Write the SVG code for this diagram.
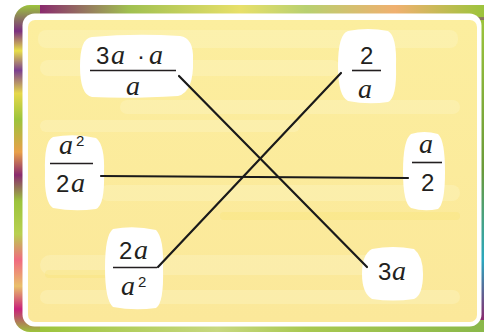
<svg xmlns="http://www.w3.org/2000/svg" width="484" height="333" viewBox="0 0 484 333">
<defs>
<linearGradient id="frameL" x1="0" y1="0" x2="0" y2="1">
<stop offset="0" stop-color="#9cc43c"/>
<stop offset="0.08" stop-color="#7b2f7f"/>
<stop offset="0.14" stop-color="#e8e04a"/>
<stop offset="0.2" stop-color="#7b3f8f"/>
<stop offset="0.27" stop-color="#e6d84a"/>
<stop offset="0.35" stop-color="#9cc43c"/>
<stop offset="0.45" stop-color="#e9a04a"/>
<stop offset="0.52" stop-color="#8a2a6e"/>
<stop offset="0.6" stop-color="#9cc43c"/>
<stop offset="0.7" stop-color="#b8d050"/>
<stop offset="0.78" stop-color="#f06a80"/>
<stop offset="0.86" stop-color="#e9c06a"/>
<stop offset="0.93" stop-color="#c8227a"/>
<stop offset="1" stop-color="#9cc43c"/>
</linearGradient>
<linearGradient id="frameT" x1="0" y1="0" x2="1" y2="0">
<stop offset="0" stop-color="#8a2a6e"/>
<stop offset="0.2" stop-color="#a0c050"/>
<stop offset="0.45" stop-color="#e8e06a"/>
<stop offset="0.6" stop-color="#b8d070"/>
<stop offset="0.8" stop-color="#f0b070"/>
<stop offset="1" stop-color="#9cc43c"/>
</linearGradient>
<linearGradient id="frameB" x1="0" y1="0" x2="1" y2="0">
<stop offset="0" stop-color="#9cc43c"/>
<stop offset="0.4" stop-color="#c8d880"/>
<stop offset="0.6" stop-color="#a8c850"/>
<stop offset="1" stop-color="#8ab84a"/>
</linearGradient>
<linearGradient id="frameR" x1="0" y1="0" x2="0" y2="1">
<stop offset="0" stop-color="#9cc43c"/>
<stop offset="0.5" stop-color="#6a9a3a"/>
<stop offset="0.8" stop-color="#2aa8c0"/>
<stop offset="1" stop-color="#8a2a6e"/>
</linearGradient>
<linearGradient id="paper" x1="0" y1="0" x2="0" y2="1">
<stop offset="0" stop-color="#fcee9e"/>
<stop offset="1" stop-color="#fbe89a"/>
</linearGradient>
</defs>
<style>
.num{font-family:"Liberation Sans",Arial,sans-serif;font-size:24px;fill:#231f20}
.var{font-family:"Liberation Serif","Times New Roman",serif;font-style:italic;font-size:28px;fill:#231f20}
.sup{font-family:"Liberation Sans",Arial,sans-serif;font-size:15px;fill:#231f20}
.bar{stroke:#231f20;stroke-width:1.6}
.blob{fill:#ffffff}
.link{stroke:#1a1a1a;stroke-width:2.2;fill:none;stroke-linecap:round}
.streak{fill:#fdf6c8;opacity:0.35}
.streak2{fill:#f8e268;opacity:0.25}
</style>
<!-- frame -->
<rect x="14" y="5" width="480" height="327" rx="16" fill="url(#frameL)"/>
<rect x="40" y="5" width="444" height="12" fill="url(#frameT)"/>
<rect x="40" y="320" width="444" height="12" fill="url(#frameB)"/>
<rect x="476" y="20" width="10" height="300" fill="url(#frameR)"/>
<rect x="22.5" y="13.5" width="459" height="313" rx="12" fill="#ffffff"/>
<rect x="28" y="20" width="449" height="302" rx="7" fill="url(#paper)"/>
<!-- paper streaks -->
<rect x="38" y="30" width="420" height="18" rx="8" class="streak"/>
<rect x="40" y="60" width="300" height="16" rx="8" class="streak"/>
<rect x="120" y="100" width="340" height="14" rx="7" class="streak"/>
<rect x="40" y="120" width="260" height="12" rx="6" class="streak"/>
<rect x="100" y="185" width="360" height="16" rx="8" class="streak"/>
<rect x="40" y="255" width="380" height="20" rx="10" class="streak"/>
<rect x="40" y="290" width="420" height="14" rx="7" class="streak"/>
<rect x="45" y="270" width="110" height="8" rx="4" class="streak2"/>
<rect x="220" y="212" width="240" height="8" rx="4" class="streak2"/>
<!-- nodes -->
<g id="n-3a-a-over-a">
<path class="blob" d="M92,37 Q135,33 180,36 Q194,38 193,60 Q194,92 178,96 Q130,99 92,97 Q80,95 80,66 Q80,38 92,37 Z"/>
<text class="num" x="96" y="64">3</text>
<text class="var" x="111" y="64">a</text>
<text class="num" x="137" y="64">·</text>
<text class="var" x="149" y="64">a</text>
<line class="bar" x1="90" y1="70.5" x2="176" y2="70.5"/>
<text class="var" x="126" y="95">a</text>
</g>
<g id="n-2-over-a">
<path class="blob" d="M348,31 Q368,27 388,31 Q397,36 396,66 Q397,98 388,102 Q368,105 348,101 Q338,96 338,66 Q338,34 348,31 Z"/>
<text class="num" x="360" y="64">2</text>
<line class="bar" x1="352" y1="70.5" x2="381" y2="70.5"/>
<text class="var" x="358" y="98">a</text>
</g>
<g id="n-a2-over-2a">
<path class="blob" d="M53,137 Q75,133 96,138 Q105,145 104,172 Q105,205 96,209 Q74,212 53,208 Q44,202 45,172 Q44,141 53,137 Z"/>
<text class="var" x="59" y="154">a</text>
<text class="sup" x="76" y="146">2</text>
<line class="bar" x1="50" y1="163.5" x2="93" y2="163.5"/>
<text class="num" x="56" y="192">2</text>
<text class="var" x="71" y="192">a</text>
</g>
<g id="n-a-over-2">
<path class="blob" d="M411,134 Q424,130 438,134 Q445,140 445,172 Q445,204 438,209 Q424,212 411,208 Q403,203 403,172 Q403,140 411,134 Z"/>
<text class="var" x="419" y="153">a</text>
<line class="bar" x1="412" y1="162.5" x2="442" y2="162.5"/>
<text class="num" x="421" y="191">2</text>
</g>
<g id="n-2a-over-a2">
<path class="blob" d="M113,229 Q134,225 156,230 Q164,238 163,268 Q164,303 156,308 Q134,311 113,307 Q105,300 105,268 Q105,235 113,229 Z"/>
<text class="num" x="119" y="259">2</text>
<text class="var" x="134" y="259">a</text>
<line class="bar" x1="113" y1="267.5" x2="157" y2="267.5"/>
<text class="var" x="121" y="295">a</text>
<text class="sup" x="138" y="287">2</text>
</g>
<g id="n-3a">
<path class="blob" d="M372,249 Q393,245 414,249 Q423,256 423,274 Q423,295 414,299 Q393,302 372,299 Q362,293 362,274 Q362,254 372,249 Z"/>
<text class="num" x="378" y="280">3</text>
<text class="var" x="392" y="280">a</text>
</g>
<!-- connectors -->
<g id="connectors">
<line class="link" x1="179" y1="76" x2="367" y2="267"/>
<line class="link" x1="341" y1="73" x2="158" y2="267"/>
<line class="link" x1="101" y1="176" x2="408" y2="178"/>
</g>
</svg>
